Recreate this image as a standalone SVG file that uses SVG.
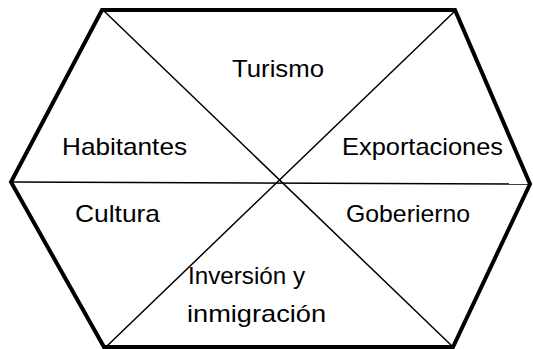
<svg xmlns="http://www.w3.org/2000/svg" width="533" height="349" viewBox="0 0 533 349">
<style>
.edge{fill:none;stroke:#000;stroke-width:4;stroke-linejoin:miter}
.div{fill:none;stroke:#000;stroke-width:1.5}
.lbl{font-family:"Liberation Sans",Arial,sans-serif;font-size:24px;fill:#000}
</style>
<rect width="533" height="349" fill="#fff"/>
<g id="connectors">
<line class="div" x1="104" y1="11" x2="452" y2="346"/>
<line class="div" x1="455" y1="11" x2="107" y2="346"/>
<line class="div" x1="11" y1="182" x2="530" y2="184"/>
</g>
<g id="hexagon">
<polygon class="edge" points="102,10 455,10 530,184 453,347 104,347 11,182"/>
</g>
<g id="turismo"><text class="lbl" x="232" y="77" textLength="92" lengthAdjust="spacingAndGlyphs">Turismo</text></g>
<g id="habitantes"><text class="lbl" x="62" y="155" textLength="125" lengthAdjust="spacingAndGlyphs">Habitantes</text></g>
<g id="exportaciones"><text class="lbl" x="342" y="155" textLength="161" lengthAdjust="spacingAndGlyphs">Exportaciones</text></g>
<g id="cultura"><text class="lbl" x="75" y="222" textLength="85" lengthAdjust="spacingAndGlyphs">Cultura</text></g>
<g id="goberierno"><text class="lbl" x="346" y="222" textLength="124" lengthAdjust="spacingAndGlyphs">Goberierno</text></g>
<g id="inversion"><text class="lbl" x="188" y="284" textLength="117" lengthAdjust="spacingAndGlyphs">Inversión y</text><text class="lbl" x="187" y="322" textLength="139" lengthAdjust="spacingAndGlyphs">inmigración</text></g>
</svg>
